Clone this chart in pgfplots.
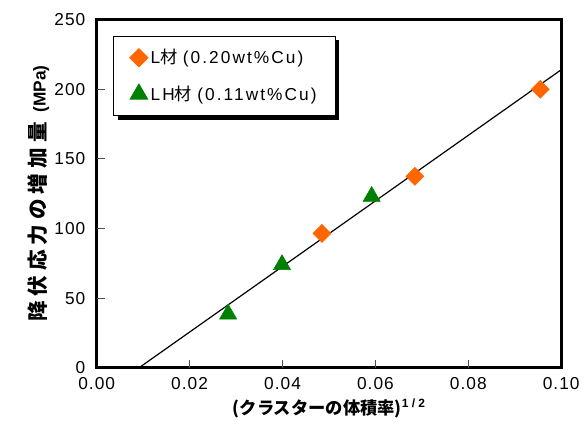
\documentclass[border=0pt]{standalone}
\usepackage{pgfplots}
\pgfplotsset{compat=1.18}
\usepackage{fontspec}
\setmainfont{Liberation Sans}
\newfontfamily\cjk{Noto Sans CJK JP}
\newfontfamily\cjksp[LetterSpace=24]{Noto Sans CJK JP}
\newfontfamily\lsp[LetterSpace=6]{Liberation Sans}
\newfontfamily\lspl[LetterSpace=12]{Liberation Sans}
\usetikzlibrary{shadows}
\definecolor{org}{HTML}{FF6600}
\definecolor{grn}{HTML}{008000}
\begin{document}
\begin{tikzpicture}
\path (0pt,0pt) rectangle (438pt,330.75pt);
\begin{axis}[
  at={(72.75pt,54pt)}, anchor=south west,
  scale only axis, width=349.5pt, height=262pt,
  xmin=0, xmax=0.10, ymin=0, ymax=250,
  xtick={0,0.02,...,0.10}, ytick={0,50,...,250},
  xticklabel style={/pgf/number format/fixed,/pgf/number format/fixed zerofill,/pgf/number format/precision=2},
  /pgf/number format/assume math mode=true,
  tick align=inside, major tick length=6pt,
  tick style={draw=black!70, line width=0.8pt},
  tick pos=left,
  axis line style={line width=2pt},
  ticklabel style={font=\lsp\fontsize{13}{15}\selectfont},
  xticklabel style={yshift=-4pt},
  yticklabel style={xshift=-5pt},
  xlabel={\textbf{\cjk (クラスターの体積率)}\raisebox{0.7ex}{\fontsize{9}{10}\selectfont\textbf{1 / 2}}},
  ylabel={{\bfseries\cjksp\fontsize{15.5}{17}\selectfont 降伏応力の増加量} \textbf{(MPa)}},
  label style={font=\fontsize{13}{15}\selectfont},
  ylabel style={yshift=-3pt},
  legend style={at={(0.036,0.954)}, anchor=north west, draw=black, line width=0.8pt,
    drop shadow={shadow xshift=3pt, shadow yshift=-3pt, fill=black, opacity=1},
    fill=white, font=\lspl\fontsize{13}{15}\selectfont, row sep=11pt, inner xsep=12pt, inner ysep=8pt,
    cells={anchor=west}},
  legend image code/.code={\draw[#1] plot coordinates {(0.3cm,0cm)};},
  clip=false,
]
\pgfplotsinvokeforeach{0.02,0.04,0.06,0.08}{
  \draw[black!70, line width=0.8pt] (axis cs:#1,0) -- ++(0pt,6pt);
}
\pgfplotsinvokeforeach{50,100,150,200}{
  \draw[black!70, line width=0.8pt] (axis cs:0,#1) -- ++(6pt,0pt);
}
\addplot[only marks, mark=square*, mark size=4.8pt, mark options={rotate=45, fill=org, draw=org}, color=org]
  coordinates {(0.0485,96.5) (0.0685,137.5) (0.0955,200)};
\addlegendentry{L{\cjk 材}\hspace{4pt}(0.20wt\%Cu)}
\addplot[only marks, mark=triangle*, mark size=7.5pt, mark options={fill=grn, draw=grn}, color=grn]
  coordinates {(0.0283,38.5) (0.0399,74) (0.0592,123)};
\addlegendentry{LH{\cjk 材}\hspace{4pt}(0.11wt\%Cu)}
\addplot[black, line width=0.9pt, forget plot] coordinates {(0.0091,0) (0.10,214)};
\end{axis}
\end{tikzpicture}
\end{document}
